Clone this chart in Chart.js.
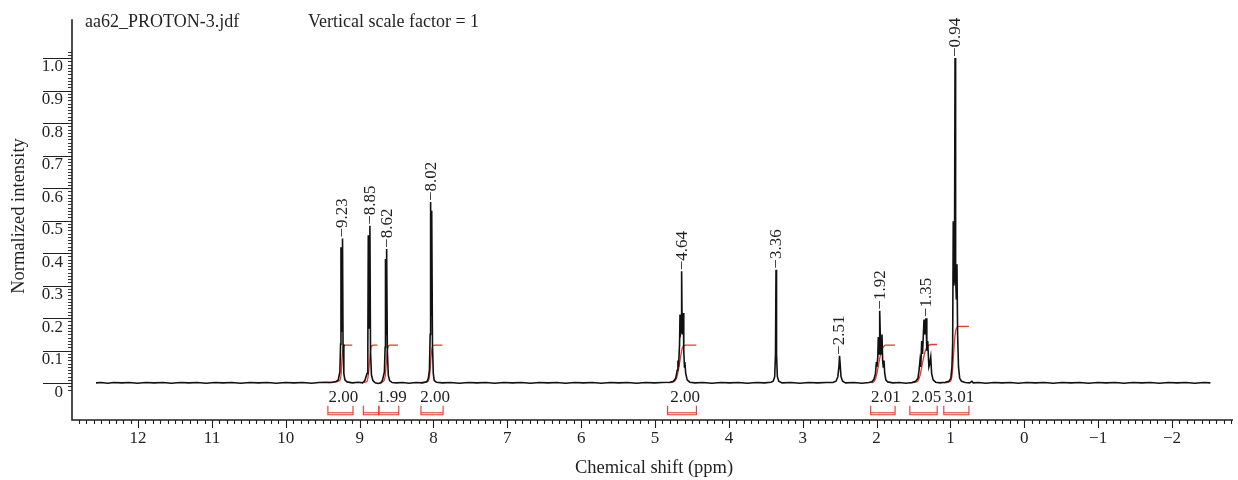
<!DOCTYPE html>
<html>
<head>
<meta charset="utf-8">
<script src="https://cdn.jsdelivr.net/npm/chart.js@4.4.0/dist/chart.umd.min.js"></script>
<style>
  html, body { margin: 0; padding: 0; background: #fff; }
  #wrap { width: 1238px; height: 480px; position: relative; }
</style>
</head>
<body>
<div id="wrap"><canvas id="nmrChart"></canvas></div>
<script>
// 1H trace: [chemical shift (ppm), normalized intensity]
const spectrum = [
  [12.57, 0.001], [12.50, 0.002], [12.41, 0.000], [12.33, 0.002], [12.22, 0.001], [12.12, 0.002], [12.01, 0.000],
  [11.90, 0.002], [11.78, 0.001], [11.66, 0.002], [11.55, 0.000], [11.43, 0.002], [11.31, 0.001], [11.20, 0.002],
  [11.08, 0.000], [10.96, 0.002], [10.85, 0.001], [10.73, 0.002], [10.61, 0.000], [10.49, 0.002], [10.37, 0.001],
  [10.25, 0.002], [10.13, 0.000], [10.01, 0.002], [9.89, 0.001], [9.77, 0.002], [9.65, 0.000], [9.55, 0.002],
  [9.46, 0.003], [9.38, 0.002], [9.32, 0.005],
  // 9.23 doublet
  [9.29, 0.010], [9.268, 0.035], [9.258, 0.12], [9.253, 0.418], [9.246, 0.16], [9.238, 0.16], [9.232, 0.445],
  [9.225, 0.12], [9.214, 0.03], [9.20, 0.01], [9.17, 0.004], [9.10, 0.001], [9.02, 0.003], [8.96, 0.001],
  // 8.85 doublet
  [8.93, 0.008], [8.90, 0.03], [8.889, 0.11], [8.883, 0.455], [8.876, 0.17], [8.868, 0.17], [8.861, 0.484],
  [8.853, 0.10], [8.840, 0.025], [8.82, 0.008], [8.79, 0.001], [8.75, -0.001], [8.71, 0.001],
  // 8.62 doublet
  [8.69, 0.01], [8.665, 0.035], [8.655, 0.11], [8.650, 0.382], [8.643, 0.15], [8.637, 0.15], [8.632, 0.413],
  [8.625, 0.10], [8.612, 0.025], [8.595, 0.008], [8.56, 0.002], [8.50, 0.001], [8.42, 0.002], [8.33, 0.000],
  [8.24, 0.002], [8.15, 0.001], [8.09, 0.004],
  // 8.02
  [8.07, 0.015], [8.055, 0.04], [8.045, 0.15], [8.039, 0.557], [8.033, 0.21], [8.027, 0.21], [8.021, 0.53],
  [8.014, 0.12], [8.003, 0.03], [7.99, 0.008], [7.96, 0.003],
  [7.88, 0.001], [7.77, 0.002], [7.65, 0.000], [7.53, 0.002], [7.41, 0.001], [7.29, 0.002], [7.17, 0.000],
  [7.05, 0.002], [6.93, 0.001], [6.81, 0.002], [6.69, 0.000], [6.57, 0.002], [6.45, 0.001], [6.33, 0.002],
  [6.21, 0.000], [6.09, 0.002], [5.97, 0.001], [5.85, 0.002], [5.73, 0.000], [5.61, 0.002], [5.49, 0.001],
  [5.37, 0.002], [5.25, 0.000], [5.13, 0.002], [5.01, 0.001], [4.90, 0.002], [4.80, 0.003],
  // 4.64 multiplet
  [4.75, 0.006], [4.72, 0.015], [4.70, 0.04], [4.69, 0.07], [4.682, 0.05], [4.668, 0.12], [4.662, 0.211],
  [4.655, 0.15], [4.646, 0.16], [4.640, 0.344], [4.633, 0.16], [4.625, 0.15], [4.618, 0.216], [4.611, 0.10],
  [4.602, 0.05], [4.596, 0.065], [4.585, 0.03], [4.565, 0.01], [4.53, 0.003],
  [4.46, 0.001], [4.35, 0.002], [4.23, 0.000], [4.11, 0.002], [3.99, 0.001], [3.87, 0.002], [3.75, 0.000],
  [3.63, 0.002], [3.52, 0.001], [3.43, 0.003],
  // 3.36
  [3.40, 0.006], [3.38, 0.02], [3.369, 0.09], [3.362, 0.349], [3.355, 0.09], [3.344, 0.02], [3.325, 0.006],
  [3.28, 0.001], [3.16, 0.002], [3.04, 0.000], [2.92, 0.002], [2.80, 0.001], [2.68, 0.002], [2.59, 0.002],
  // 2.51
  [2.55, 0.006], [2.525, 0.02], [2.51, 0.05], [2.502, 0.084], [2.494, 0.06], [2.482, 0.02], [2.46, 0.006],
  [2.42, 0.001], [2.31, 0.002], [2.20, 0.000], [2.10, 0.002],
  // 1.92 multiplet
  [2.06, 0.005], [2.035, 0.012], [2.015, 0.03], [2.003, 0.065], [1.995, 0.05], [1.984, 0.08], [1.977, 0.142],
  [1.967, 0.09], [1.962, 0.10], [1.954, 0.223], [1.945, 0.10], [1.937, 0.09], [1.927, 0.15], [1.918, 0.07],
  [1.910, 0.05], [1.900, 0.07], [1.890, 0.03], [1.875, 0.01], [1.85, 0.004],
  [1.78, 0.001], [1.69, 0.002], [1.60, 0.000], [1.52, 0.002],
  // 1.35 multiplet
  [1.47, 0.006], [1.44, 0.015], [1.425, 0.04], [1.412, 0.07], [1.402, 0.05], [1.389, 0.13], [1.378, 0.09],
  [1.358, 0.196], [1.345, 0.15], [1.331, 0.20], [1.320, 0.10], [1.308, 0.13], [1.292, 0.05], [1.280, 0.06],
  [1.267, 0.08], [1.255, 0.03], [1.235, 0.01], [1.20, 0.003], [1.14, 0.001], [1.07, 0.003],
  // 0.94 triplet
  [1.02, 0.006], [0.995, 0.015], [0.98, 0.05], [0.97, 0.12], [0.962, 0.498], [0.954, 0.30], [0.946, 0.32],
  [0.938, 1.0], [0.930, 0.33], [0.921, 0.26], [0.912, 0.366], [0.903, 0.15], [0.891, 0.05], [0.875, 0.015],
  [0.85, 0.006], [0.80, 0.002], [0.74, 0.001], [0.71, 0.006], [0.69, 0.001],
  [0.62, 0.002], [0.52, 0.000], [0.41, 0.002], [0.30, 0.001], [0.19, 0.002], [0.08, 0.000], [-0.03, 0.002],
  [-0.15, 0.001], [-0.27, 0.002], [-0.39, 0.000], [-0.51, 0.002], [-0.63, 0.001], [-0.75, 0.002], [-0.87, 0.000],
  [-0.99, 0.002], [-1.11, 0.001], [-1.23, 0.002], [-1.35, 0.000], [-1.47, 0.002], [-1.59, 0.001], [-1.71, 0.002],
  [-1.83, 0.000], [-1.95, 0.002], [-2.07, 0.001], [-2.19, 0.002], [-2.31, 0.000], [-2.43, 0.002], [-2.52, 0.001]
];

// integral traces (red)
const integralCurves = [
  [[9.43, 0.002], [9.32, 0.004], [9.27, 0.008], [9.25, 0.03], [9.24, 0.07], [9.225, 0.105], [9.21, 0.114], [9.19, 0.117], [9.10, 0.117]],
  [[8.95, 0.002], [8.90, 0.006], [8.88, 0.03], [8.865, 0.07], [8.85, 0.105], [8.835, 0.115], [8.81, 0.117], [8.76, 0.117]],
  [[8.73, 0.002], [8.68, 0.005], [8.655, 0.02], [8.64, 0.06], [8.625, 0.10], [8.61, 0.114], [8.59, 0.117], [8.48, 0.117]],
  [[8.17, 0.002], [8.07, 0.006], [8.05, 0.03], [8.035, 0.075], [8.02, 0.108], [8.005, 0.116], [7.98, 0.117], [7.88, 0.117]],
  [[4.82, 0.001], [4.75, 0.004], [4.71, 0.015], [4.68, 0.045], [4.655, 0.08], [4.635, 0.105], [4.615, 0.115], [4.59, 0.117], [4.44, 0.117]],
  [[2.07, 0.001], [2.03, 0.006], [2.00, 0.025], [1.975, 0.055], [1.95, 0.085], [1.925, 0.105], [1.90, 0.114], [1.875, 0.117], [1.75, 0.117]],
  [[1.55, 0.001], [1.45, 0.005], [1.41, 0.025], [1.38, 0.06], [1.35, 0.092], [1.32, 0.11], [1.29, 0.117], [1.26, 0.119], [1.18, 0.119]],
  [[1.09, 0.001], [1.00, 0.006], [0.975, 0.03], [0.96, 0.08], [0.945, 0.13], [0.93, 0.16], [0.91, 0.172], [0.885, 0.175], [0.75, 0.175]]
];

// integration brackets [from, to] in ppm and their values
const integralRanges = [[9.43, 9.09], [8.95, 8.74], [8.74, 8.47], [8.17, 7.87], [4.83, 4.44], [2.08, 1.75], [1.55, 1.18], [1.09, 0.75]];
const integralValues = ['2.00', '', '1.99', '2.00', '2.00', '2.01', '2.05', '3.01'];

// peak picking labels
const peakLabels = ['9.23', '8.85', '8.62', '8.02', '4.64', '3.36', '2.51', '1.92', '1.35', '0.94'];
const peakLabelShift = [9.232, 8.861, 8.632, 8.039, 4.640, 3.362, 2.502, 1.954, 1.331, 0.938];
const peakLabelHeight = [0.445, 0.484, 0.413, 0.557, 0.344, 0.349, 0.084, 0.223, 0.200, 1.0];

const serif = '"Liberation Serif", "Times New Roman", serif';
const inkColor = '#231f20';
const redColor = '#e8392b';

function minusSign(v) {
    return v < 0 ? '\u2212' + Math.abs(v) : String(v);
}

const nmrDecor = {
    id: 'nmrDecor',
    afterDraw(chart) {
        const ctx = chart.ctx;
        const xs = chart.scales.x;
        const ys = chart.scales.y;
        const area = chart.chartArea;
        const zeroY = ys.getPixelForValue(0);
        ctx.save();

        // axis lines
        ctx.strokeStyle = inkColor;
        ctx.lineWidth = 1.6;
        ctx.beginPath();
        ctx.moveTo(area.left, area.top);
        ctx.lineTo(area.left, area.bottom);
        ctx.lineTo(area.right, area.bottom);
        ctx.stroke();

        // y ticks: long major lines, short minor ticks
        ctx.lineWidth = 1.2;
        ctx.beginPath();
        for (let i = 0; i <= 10; i++) {
            const y = Math.round(ys.getPixelForValue(i / 10)) + 0.5;
            ctx.moveTo(area.left - 29, y);
            ctx.lineTo(area.left, y);
        }
        ctx.stroke();
        ctx.lineWidth = 0.9;
        ctx.beginPath();
        for (let i = -2; i <= 102; i++) {
            const y = Math.round(ys.getPixelForValue(i / 100)) + 0.5;
            ctx.moveTo(area.left - 4, y);
            ctx.lineTo(area.left, y);
        }
        ctx.stroke();

        // x ticks
        ctx.lineWidth = 1.1;
        ctx.beginPath();
        for (let i = -28; i <= 128; i++) {
            const x = Math.round(xs.getPixelForValue(i / 10)) + 0.5;
            const len = i % 10 === 0 ? 8 : 4;
            ctx.moveTo(x, area.bottom);
            ctx.lineTo(x, area.bottom + len);
        }
        ctx.stroke();

        // integration brackets
        ctx.strokeStyle = redColor;
        ctx.lineWidth = 1.1;
        ctx.font = '17px ' + serif;
        ctx.fillStyle = inkColor;
        ctx.textAlign = 'center';
        ctx.textBaseline = 'middle';
        integralRanges.forEach(function(r, i) {
            const x1 = xs.getPixelForValue(r[0]);
            const x2 = xs.getPixelForValue(r[1]);
            const top = zeroY + 22.5;
            const bot = zeroY + 31.5;
            ctx.beginPath();
            ctx.moveTo(x1, top);
            ctx.lineTo(x1, bot);
            ctx.lineTo(x2, bot);
            ctx.lineTo(x2, top);
            ctx.moveTo(x1, bot - 2);
            ctx.lineTo(x2, bot - 2);
            ctx.stroke();
            if (integralValues[i]) {
                ctx.fillText(integralValues[i], (x1 + x2) / 2 + 3, zeroY + 14);
            }
        });

        // peak labels, rotated
        ctx.textAlign = 'left';
        peakLabels.forEach(function(label, i) {
            const x = xs.getPixelForValue(peakLabelShift[i]);
            const y = ys.getPixelForValue(peakLabelHeight[i]);
            ctx.save();
            ctx.translate(x + 0.5, y - 1);
            ctx.rotate(-Math.PI / 2);
            ctx.fillText('\u2212' + label, 0, 0);
            ctx.restore();
        });

        // header and axis titles
        ctx.font = '18px ' + serif;
        ctx.textBaseline = 'alphabetic';
        ctx.fillText('aa62_PROTON-3.jdf', 85, 27);
        ctx.fillText('Vertical scale factor = 1', 308, 27);
        ctx.textAlign = 'center';
        ctx.font = '18.5px ' + serif;
        ctx.fillText('Chemical shift (ppm)', 654, 473);
        ctx.save();
        ctx.translate(24, 216);
        ctx.rotate(-Math.PI / 2);
        ctx.fillText('Normalized intensity', 0, 0);
        ctx.restore();

        ctx.restore();
    }
};

const datasets = [{
    label: 'spectrum',
    data: spectrum.map(p => ({ x: p[0], y: p[1] })),
    borderColor: '#111',
    borderWidth: 1.6,
    pointRadius: 0,
    tension: 0
}];
integralCurves.forEach(function(curve) {
    datasets.push({
        label: 'integral',
        data: curve.map(p => ({ x: p[0], y: p[1] })),
        borderColor: redColor,
        borderWidth: 1.3,
        pointRadius: 0,
        cubicInterpolationMode: 'monotone'
    });
});

const ctx = document.getElementById('nmrChart').getContext('2d');
const nmrChart = new Chart(ctx, {
    type: 'line',
    data: { datasets: datasets },
    options: {
        responsive: true,
        maintainAspectRatio: false,
        animation: false,
        layout: { padding: { top: 14, right: 5, left: 0, bottom: 0 } },
        plugins: {
            legend: { display: false },
            tooltip: { enabled: false }
        },
        scales: {
            x: {
                type: 'linear',
                reverse: true,
                min: -2.826,
                max: 12.895,
                grid: { display: false, drawTicks: false },
                border: { display: false },
                afterFit: function(scale) { scale.height = 60; },
                ticks: {
                    stepSize: 1,
                    includeBounds: false,
                    autoSkip: false,
                    maxRotation: 0,
                    padding: 8,
                    color: inkColor,
                    font: { family: serif, size: 17 },
                    callback: function(value) { return minusSign(value); }
                }
            },
            y: {
                type: 'linear',
                min: -0.1132,
                max: 1.1194,
                grid: { display: false, drawTicks: false },
                border: { display: false },
                afterFit: function(scale) { scale.width = 72; },
                ticks: {
                    stepSize: 0.1,
                    includeBounds: false,
                    labelOffset: 9,
                    padding: 9,
                    color: inkColor,
                    font: { family: serif, size: 17 },
                    callback: function(value) {
                        if (value < -0.01 || value > 1.05) return '';
                        return Math.abs(value) < 1e-9 ? '0' : value.toFixed(1);
                    }
                }
            }
        }
    },
    plugins: [nmrDecor]
});
</script>
</body>
</html>
